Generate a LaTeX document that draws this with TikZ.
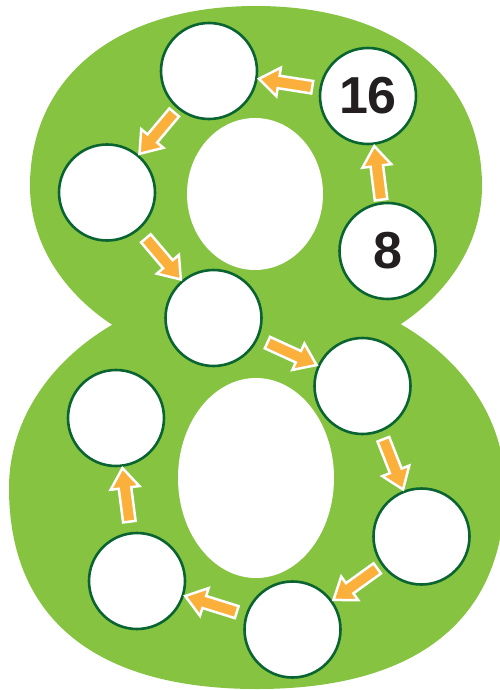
\documentclass[tikz,border=0pt]{standalone}
\usepackage{fontspec}
\setmainfont{Liberation Sans}
\usetikzlibrary{calc}
\definecolor{leaf}{RGB}{133,195,64}
\definecolor{rim}{RGB}{10,100,50}
\definecolor{arr}{RGB}{251,176,59}
\definecolor{ink}{RGB}{35,31,32}
\newcommand\flow[2]{%
  \pgfmathanglebetweenpoints{\pgfpointanchor{#1}{center}}{\pgfpointanchor{#2}{center}}%
  \let\flowang\pgfmathresult
  \draw[arrowshape, shift={($(#2.center)!50.5pt!(#1.center)$)}, rotate=\flowang]
    (0pt,0pt) -- (-20pt,14.5pt) -- (-20pt,6.3pt) -- (-54pt,6.3pt)
    -- (-54pt,-6.3pt) -- (-20pt,-6.3pt) -- (-20pt,-14.5pt) -- cycle;
}
\begin{document}
\begin{tikzpicture}[x=1pt,y=-1pt,
  cell/.style={circle, draw=rim, line width=2.6pt, fill=white, minimum size=96pt,
    inner sep=0pt, text=ink, font=\bfseries\fontsize{52}{52}\selectfont},
  arrowshape/.style={fill=arr, draw=white, line width=2.5pt, line join=miter}]
\useasboundingbox (0,0) rectangle (500,690);
% upper lobe (cx=256, cy=186, rx=226, ry=180)
\fill[leaf] (30,186) .. controls (30,76) and (118,6) .. (256,6)
  .. controls (394,6) and (482,76) .. (482,186)
  .. controls (482,285) and (381,366) .. (256,366)
  .. controls (131,366) and (30,285) .. (30,186) -- cycle;
% lower lobe (cx=257, cy=488, rx=248, ry=201)
\fill[leaf] (9,488) .. controls (9,377) and (120,287) .. (257,287)
  .. controls (394,287) and (505,377) .. (505,488)
  .. controls (505,619) and (418,689) .. (257,689)
  .. controls (96,689) and (9,619) .. (9,488) -- cycle;
% holes
\fill[white] (255,194) ellipse [x radius=68, y radius=76];
\fill[white] (256,478) ellipse [x radius=78, y radius=100];
% cells
\node[cell] (c1) at (387.5,251) {8};
\node[cell] (c2) at (368,96) {16};
\node[cell] (c3) at (209,71) {};
\node[cell] (c4) at (107,192.5) {};
\node[cell] (c5) at (213.5,318) {};
\node[cell] (c6) at (362.5,386) {};
\node[cell] (c7) at (421.5,536.5) {};
\node[cell] (c8) at (292.5,629.5) {};
\node[cell] (c9) at (137,581) {};
\node[cell] (c10) at (116,418) {};
% arrows
\flow{c1}{c2}
\flow{c2}{c3}
\flow{c3}{c4}
\flow{c4}{c5}
\flow{c5}{c6}
\flow{c6}{c7}
\flow{c7}{c8}
\flow{c8}{c9}
\flow{c9}{c10}
\end{tikzpicture}
\end{document}
